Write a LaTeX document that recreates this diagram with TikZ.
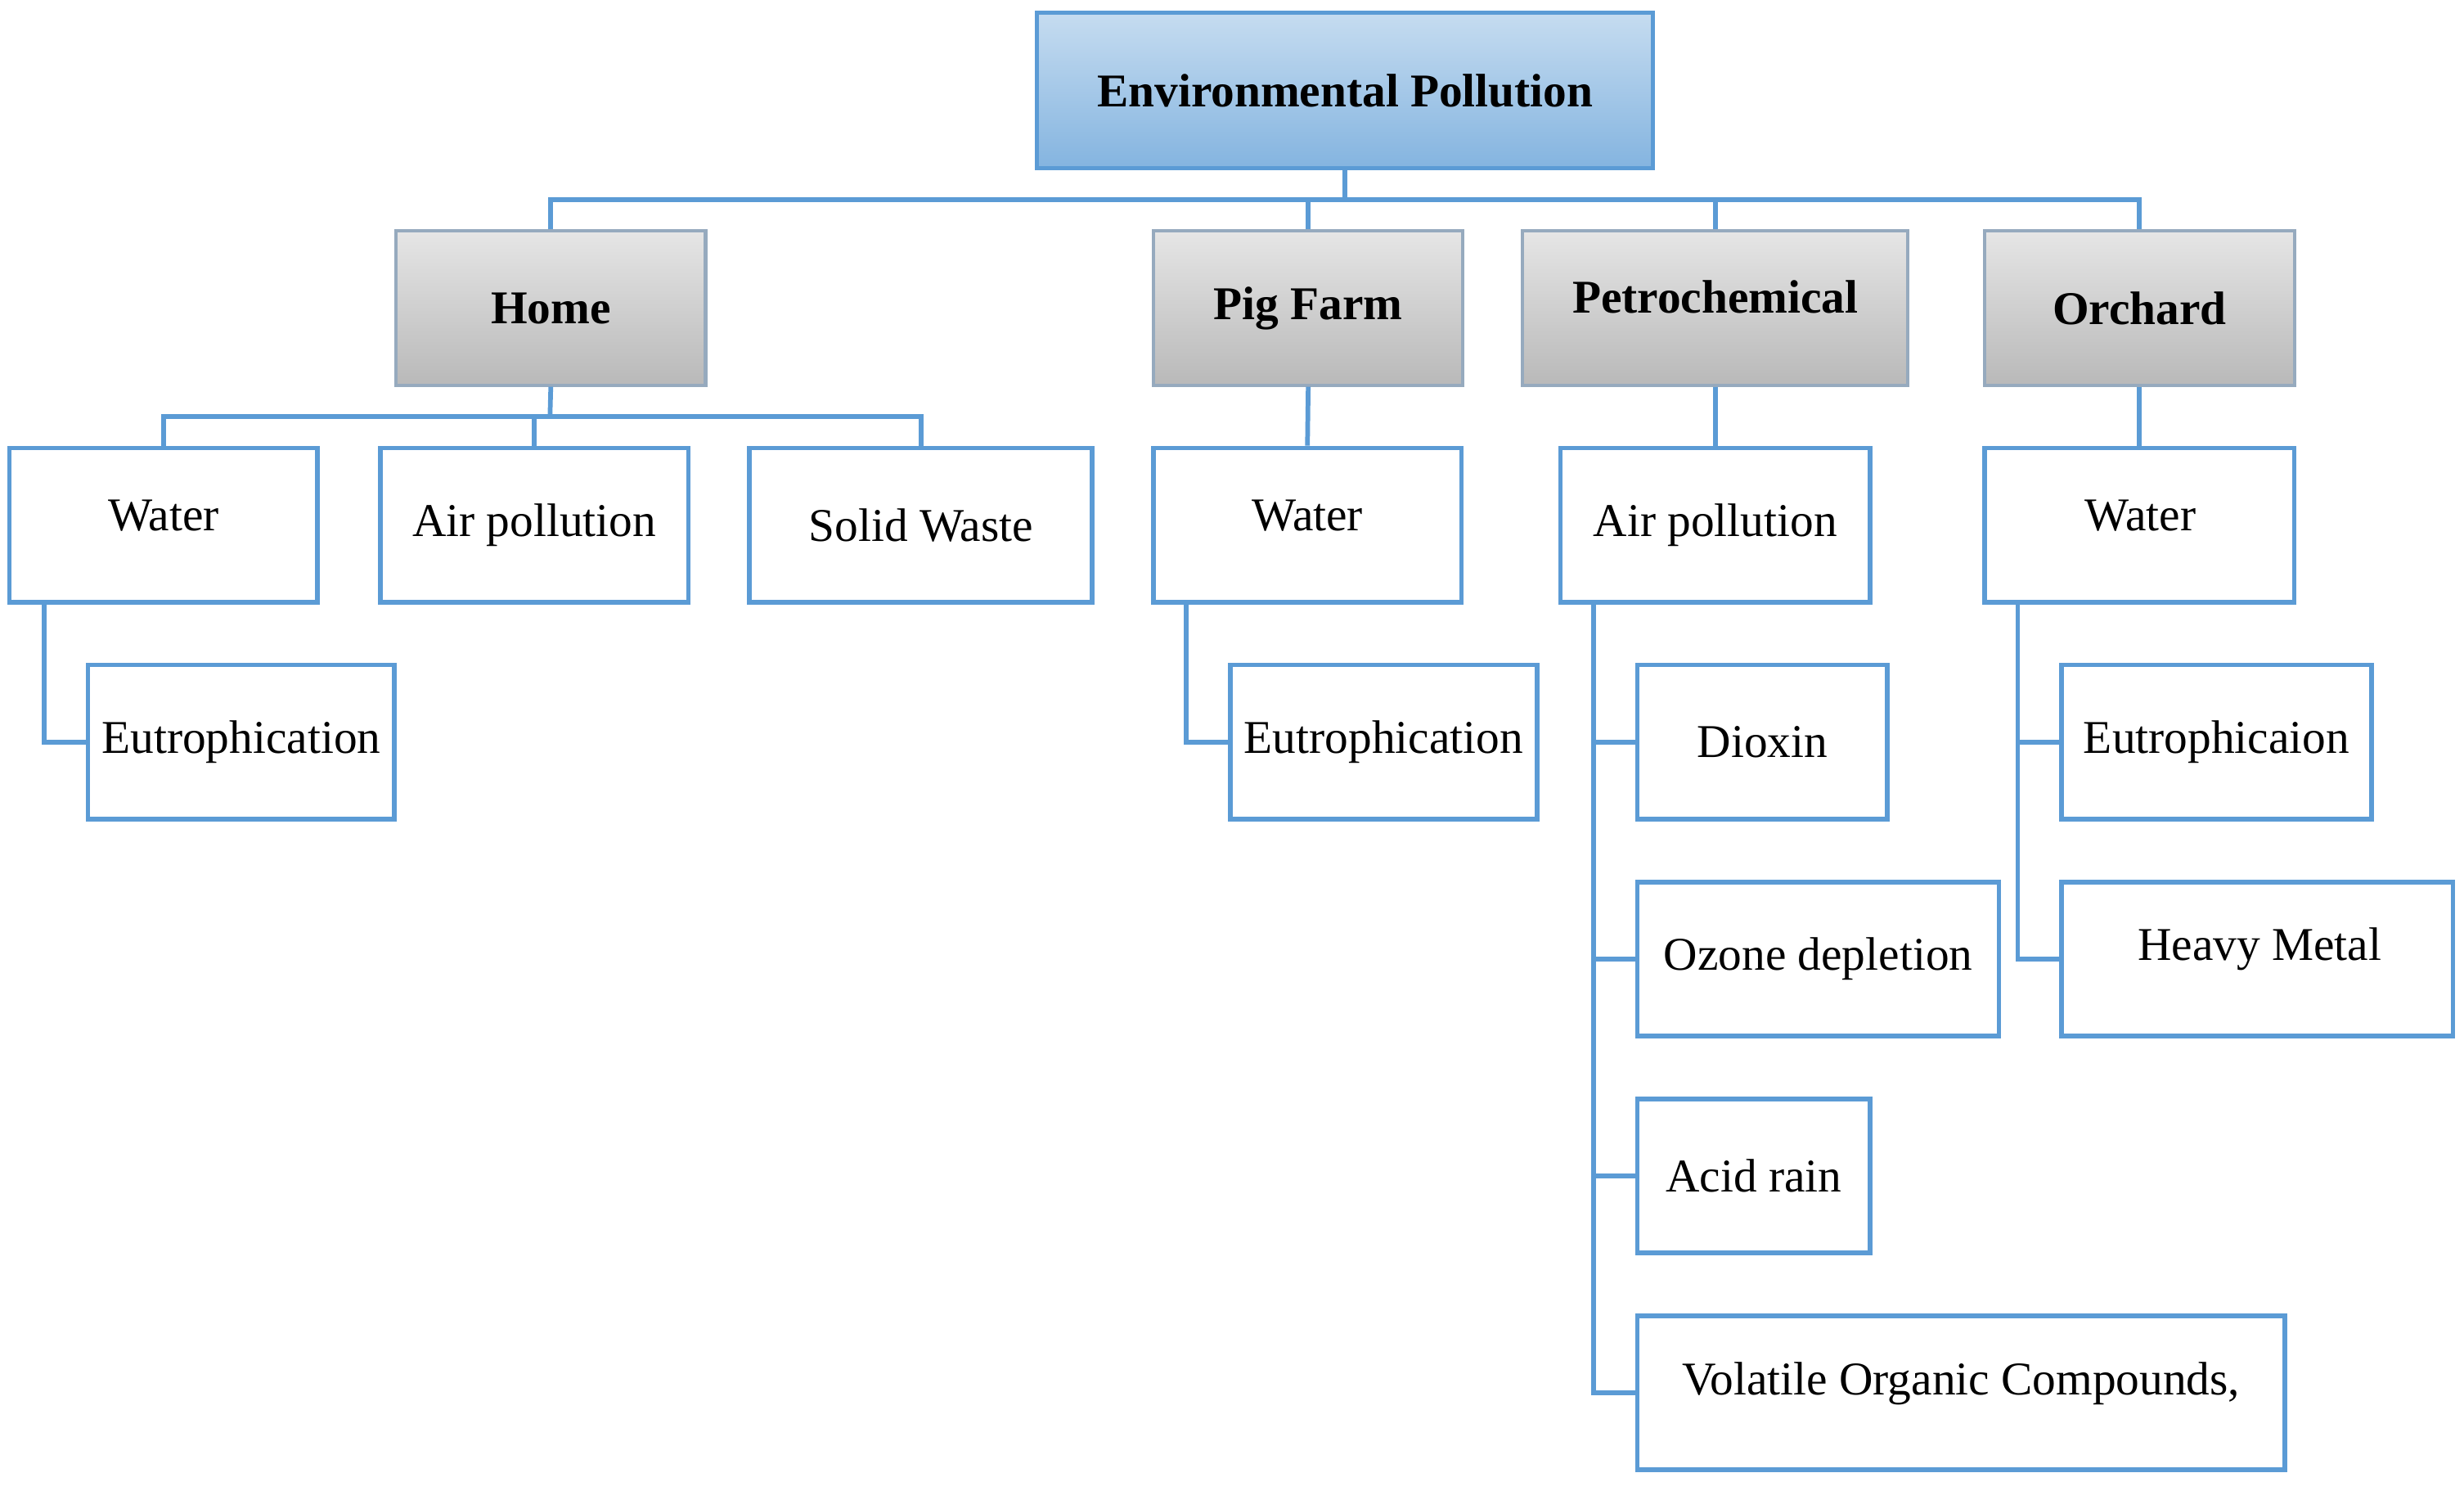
\documentclass[tikz,border=0pt]{standalone}
\usepackage{fontspec}
\setmainfont{Liberation Serif}
\definecolor{ln}{RGB}{91,155,213}
\definecolor{gb}{RGB}{150,170,190}
\begin{document}
\begin{tikzpicture}[x=0.02cm,y=-0.02cm,
  leaf/.style={draw=ln,line width=1.7pt,fill=white,inner sep=0pt,font=\fontsize{17}{20}\selectfont},
  cat/.style={draw=gb,line width=1.2pt,top color=gray!20,bottom color=gray!55,inner sep=0pt,font=\bfseries\fontsize{17}{20}\selectfont},
  root/.style={draw=ln,line width=1.5pt,top color=ln!35,bottom color=ln!75,inner sep=0pt,font=\bfseries\fontsize{17}{20}\selectfont},
  con/.style={draw=ln,line width=1.7pt}]
\useasboundingbox (0,0) rectangle (1568,948);
\newcommand{\bx}[6]{\node[#1,minimum width={(#4-#3)*0.02cm},minimum height={(#6-#5)*0.02cm}] (#2) at ({(#3+#4)/2},{(#5+#6)/2}) {};}
\bx{root}{env}{660}{1052}{8}{107}
\node[font=\bfseries\fontsize{17}{20}\selectfont] at (env) {Environmental Pollution};
\bx{cat}{home}{252}{449}{147}{245}\node[font=\bfseries\fontsize{17}{20}\selectfont] at (home) {Home};
\bx{cat}{pig}{734}{931}{147}{245}\node[font=\bfseries\fontsize{17}{20}\selectfont] at (pig) {Pig Farm};
\bx{cat}{pet}{969}{1214}{147}{245}\node[font=\bfseries\fontsize{17}{20}\selectfont] at ([yshift=4pt]pet) {Petrochemical};
\bx{cat}{orc}{1263}{1460}{147}{245}\node[font=\bfseries\fontsize{17}{20}\selectfont] at (orc) {Orchard};
% connectors top
\coordinate (bar) at (856,127);
\draw[con] (env.south) -- (bar);
\draw[con] (home.north) |- (bar) -| (orc.north);
\draw[con] (pig.north) -- (pig.north|-bar);
\draw[con] (pet.north) -- (pet.north|-bar);
% home children
\bx{leaf}{hw}{6}{202}{285}{383}
\bx{leaf}{ha}{242}{438}{285}{383}
\bx{leaf}{hs}{477}{695}{285}{383}
\bx{leaf}{he}{56}{251}{423}{521}
\coordinate (hb) at (350,265);
\draw[con] (home.south) -- (hb);
\draw[con] (hw.north-|104,0) |- (hb) -| (hs.north);
\draw[con] (340,285) -- (340,265);
\coordinate (hv) at (28,383);
\draw[con] (hv) |- (he.west);
% pig children
\bx{leaf}{pw}{734}{930}{285}{383}
\bx{leaf}{pe}{783}{978}{423}{521}
\draw[con] (pig.south) -- (pw.north);
\coordinate (pv) at (755,383);
\draw[con] (pv) |- (pe.west);
% petro children
\bx{leaf}{pa}{993}{1190}{285}{383}
\bx{leaf}{dx}{1042}{1201}{423}{521}
\bx{leaf}{oz}{1042}{1272}{561}{659}
\bx{leaf}{ac}{1042}{1190}{699}{797}
\bx{leaf}{vo}{1042}{1454}{837}{935}
\draw[con] (pet.south) -- (pet.south|-pa.north);
\coordinate (av) at (1014,383);
\draw[con] (av) |- (vo.west);
\draw[con] (1014,472) -- (dx.west);
\draw[con] (1014,610) -- (oz.west);
\draw[con] (1014,748) -- (ac.west);
% orchard children
\bx{leaf}{ow}{1263}{1460}{285}{383}
\bx{leaf}{oe}{1312}{1509}{423}{521}
\bx{leaf}{hm}{1312}{1561}{561}{659}
\draw[con] (orc.south) -- (ow.north);
\coordinate (ov) at (1284,383);
\draw[con] (ov) |- (hm.west);
\draw[con] (1284,472) -- (oe.west);
% texts
\tikzset{tx/.style={font=\fontsize{17}{20}\selectfont}}
\node[tx] at ([yshift=-6pt]hw.center) {}; 
\node[tx] at (104,328) {Water};
\node[tx] at (ha) {Air pollution};
\node[tx] at (hs) {Solid Waste};
\node[tx] at (he) {Eutrophication};
\node[tx] at (832,328) {Water};
\node[tx] at (pe) {Eutrophication};
\node[tx] at (pa) {Air pollution};
\node[tx] at (dx) {Dioxin};
\node[tx] at (oz) {Ozone depletion};
\node[tx] at (ac) {Acid rain};
\node[tx] at (1248,880) {Volatile Organic Compounds,};
\node[tx] at (1362,328) {Water};
\node[tx] at (oe) {Eutrophicaion};
\node[tx] at (1438,604) {Heavy Metal};
\end{tikzpicture}
\end{document}
